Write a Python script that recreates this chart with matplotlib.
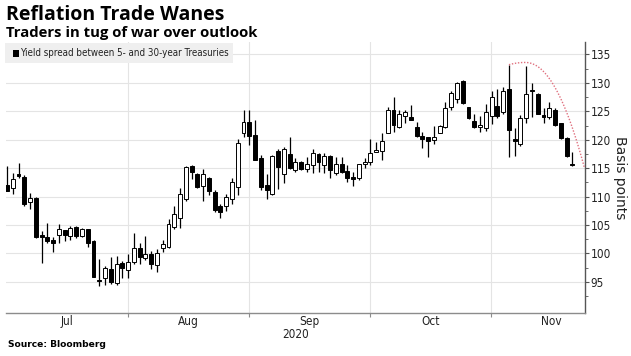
import matplotlib
matplotlib.use("Agg")
import matplotlib.pyplot as plt
from matplotlib.patches import Rectangle
import numpy as np

# ---- data (basis points), one candle per trading day, Jul -> Nov 2020 ----
opens = [112.1, 111.5, 114.0, 113.5, 109.1, 109.7, 103.2, 102.8, 102.4, 103.3,
         104.1, 103.0, 104.7, 103.0, 104.3, 102.2, 95.3, 95.6, 97.3, 94.8,
         98.3, 97.1, 98.5, 101.0, 99.1, 99.8, 97.9, 100.9, 101.1, 104.6,
         106.2, 109.6, 115.3, 114.0, 111.9, 113.3, 110.8, 108.3, 108.4, 109.5,
         111.7, 121.1, 123.1, 120.9, 116.8, 112.1, 110.5, 118.1, 114.0, 117.5,
         114.6, 116.1, 114.8, 115.5, 117.5, 115.5, 117.1, 114.2, 115.8, 114.5,
         113.4, 113.2, 115.7, 116.0, 117.9, 118.1, 121.2, 125.3, 122.3, 124.2,
         124.0, 122.3, 120.6, 120.4, 119.9, 121.2, 122.3, 125.8, 127.1, 130.3,
         125.8, 123.3, 122.3, 122.0, 124.1, 126.0, 124.9, 129.0, 120.1, 119.2,
         123.8, 128.8, 128.1, 124.3, 124.05, 125.2, 122.9, 120.3, 115.8]
highs = [115.3, 114.2, 115.9, 113.8, 110.7, 110.0, 104.0, 105.4, 102.9, 105.2,
         104.1, 104.8, 104.8, 104.4, 104.3, 102.3, 99.0, 97.7, 99.3, 99.6,
         98.6, 99.8, 103.5, 101.9, 103.0, 100.5, 100.7, 102.3, 106.1, 108.4,
         111.5, 115.4, 115.5, 114.2, 114.9, 113.4, 111.1, 108.6, 110.5, 113.2,
         120.2, 125.2, 125.2, 123.4, 117.3, 114.0, 117.3, 118.4, 118.7, 120.5,
         116.7, 116.2, 117.0, 118.3, 117.7, 117.7, 117.3, 116.9, 116.9, 115.5,
         114.4, 115.8, 116.7, 120.2, 119.6, 121.1, 125.8, 127.6, 125.2, 125.2,
         126.1, 123.2, 121.4, 120.5, 122.4, 122.6, 126.7, 128.5, 130.2, 130.5,
         125.8, 124.6, 124.2, 126.2, 128.5, 129.0, 129.2, 133.2, 122.0, 124.3,
         132.9, 130.0, 128.3, 125.5, 126.7, 125.5, 122.9, 120.4, 117.8]
lows = [110.9, 110.4, 113.2, 108.3, 107.8, 102.7, 98.3, 101.8, 100.3, 101.9,
        102.1, 102.4, 102.7, 102.9, 101.2, 95.8, 94.2, 94.5, 94.6, 94.4,
        95.6, 95.6, 98.2, 98.2, 98.8, 97.3, 96.7, 100.2, 100.9, 104.3,
        104.5, 109.3, 113.1, 111.5, 109.2, 110.2, 107.3, 106.3, 107.5, 108.7,
        110.2, 120.5, 119.0, 116.4, 111.1, 109.6, 110.3, 111.4, 112.3, 114.9,
        114.4, 114.6, 114.4, 114.1, 114.4, 114.2, 113.2, 113.8, 114.1, 112.6,
        111.8, 112.9, 114.95, 115.5, 117.9, 116.4, 121.1, 121.4, 122.0, 122.9,
        123.4, 120.4, 118.5, 116.9, 119.2, 121.2, 122.0, 125.2, 126.5, 126.3,
        123.6, 122.0, 121.3, 121.5, 122.8, 123.8, 124.6, 117.0, 117.2, 118.9,
        123.0, 124.0, 124.5, 122.9, 123.6, 122.4, 120.2, 117.0, 115.4]
closes = [111.0, 113.1, 113.7, 108.7, 109.7, 102.9, 102.9, 102.2, 101.9, 104.3,
          103.2, 104.4, 103.1, 104.3, 101.9, 95.9, 95.1, 97.4, 95.0, 98.2,
          97.4, 98.5, 101.0, 99.3, 99.8, 98.2, 100.1, 101.7, 105.2, 107.0,
          110.5, 115.2, 114.4, 111.7, 114.0, 110.9, 107.6, 107.2, 110.0, 112.6,
          119.5, 123.1, 120.7, 116.5, 111.7, 111.2, 117.1, 115.2, 118.3, 115.0,
          116.0, 114.8, 115.7, 117.6, 116.0, 117.1, 114.7, 115.8, 114.4, 113.2,
          113.1, 115.7, 116.0, 117.7, 118.2, 119.8, 125.3, 122.6, 124.5, 124.9,
          123.5, 120.6, 120.05, 119.8, 120.5, 122.5, 125.5, 128.2, 130.0, 126.4,
          123.8, 122.3, 122.6, 124.8, 127.6, 124.1, 128.5, 121.7, 119.8, 123.8,
          128.1, 128.6, 124.6, 124.05, 125.5, 122.6, 120.3, 117.1, 115.5]

month_labels = ["Jul", "Aug", "Sep", "Oct", "Nov"]
month_first_idx = [0, 21, 42, 63, 84]          # first candle of each month
year_label = "2020"
y_ticks = [95, 100, 105, 110, 115, 120, 125, 130, 135]

title = "Reflation Trade Wanes"
subtitle = "Traders in tug of war over outlook"
legend_label = "Yield spread between 5- and 30-year Treasuries"
source = "Source: Bloomberg"
ylabel = "Basis points"

# annotation arc: starts at the spike high (candle 87), ends at 115 on the right edge
arc_start_idx = 87
arc_end_value = 115

# ---- figure ----
W, H = 631, 356
fig = plt.figure(figsize=(W / 100, H / 100), dpi=100)
fig.patch.set_facecolor("white")
ax = fig.add_axes([6 / W, 1 - 313 / H, (584.5 - 6) / W, (313 - 42) / H])

n = len(opens)
x = np.arange(n)
o = np.array(opens); c = np.array(closes); hi = np.array(highs); lo = np.array(lows)

ax.vlines(x, lo, hi, color="black", lw=0.9, zorder=2)
bottoms = np.minimum(o, c)
heights = np.maximum(np.abs(c - o), 0.18)
face = ["black" if cc < oo else "white" for oo, cc in zip(o, c)]
ax.bar(x, heights, bottom=bottoms, width=0.68, color=face,
       edgecolor="black", linewidth=0.7, zorder=3)

ax.set_xlim(-0.17, 100.1)
ax.set_ylim(89.5, 137.2)

# grid
grid_c = "#e4e4e4"
for yv in y_ticks:
    ax.axhline(yv, color=grid_c, lw=0.8, zorder=0)
bounds = [i - 0.1 for i in month_first_idx[1:]]
for b in bounds:
    ax.axvline(b, color=grid_c, lw=0.8, zorder=0)

# spines
for s in ["left", "top"]:
    ax.spines[s].set_visible(False)
ax.spines["bottom"].set_color("#8c8c8c")
ax.spines["right"].set_color("#555555")
ax.spines["bottom"].set_linewidth(1.0)
ax.spines["right"].set_linewidth(1.0)

# y axis on right
ax.yaxis.tick_right()
ax.set_yticks(y_ticks)
ax.set_yticks(np.arange(92.5, 137.5, 5), minor=True)
ax.tick_params(axis="y", which="major", length=3, width=0.8, color="#555555",
               labelsize=8.5, labelcolor="#222222", pad=1.5)
ax.tick_params(axis="y", which="minor", length=2, width=0.6, color="#555555")
for lab in ax.get_yticklabels():
    lab.set_fontstretch("condensed")
ax.yaxis.set_label_position("right")
ax.set_ylabel(ylabel, rotation=270, fontsize=10, labelpad=11, color="#222222")

# x axis: boundary ticks + centred month labels
ax.set_xticks(bounds)
ax.set_xticklabels([])
ax.tick_params(axis="x", which="major", length=3, width=0.8, color="#8c8c8c")
centers = []
edges = [-0.17] + bounds + [bounds[-1] + 21]
for k in range(len(month_labels)):
    centers.append((edges[k] + edges[k + 1]) / 2)
ax.set_xticks(centers, minor=True)
ax.set_xticklabels(month_labels, minor=True)
ax.tick_params(axis="x", which="minor", length=0, labelsize=8.5,
               labelcolor="#222222", pad=1.5)
for lab in ax.get_xticklabels(minor=True):
    lab.set_fontstretch("condensed")
fig.text((6 + 584.5) / 2 / W, 1 - 334 / H, year_label, ha="center", va="center",
         fontsize=8.5, color="#222222", fontstretch="condensed")

# annotation arc (dotted red)
x0 = arc_start_idx
y0 = highs[arc_start_idx]
xv = x0 + 2.8
yv = y0 + 0.4
x1 = ax.get_xlim()[1]
xa = np.linspace(x0, xv, 20)
ya = yv - (yv - y0) * ((xv - xa) / (xv - x0)) ** 2
xb = np.linspace(xv, x1, 80)
ub = (xb - xv) / (x1 - xv)
yb = yv - (yv - arc_end_value) * ub ** 2.1
ax.plot(np.r_[xa, xb], np.r_[ya, yb], color="#e0707e", lw=1.0,
        linestyle=(0, (1, 1.2)), zorder=4, clip_on=False)

# legend box
fig.patches.append(Rectangle((5 / W, 1 - 63 / H), (233 - 5) / W, 20 / H,
                             transform=fig.transFigure, facecolor="#efefef",
                             edgecolor="none", zorder=5))
fig.patches.append(Rectangle((13 / W, 1 - 56.5 / H), 5.5 / W, 6 / H,
                             transform=fig.transFigure, facecolor="black",
                             edgecolor="none", zorder=6))
fig.text(20.5 / W, 1 - 53.5 / H, legend_label, ha="left", va="center",
         fontsize=7, color="#222222", zorder=7, fontstretch="condensed")

# titles
fig.text(6 / W, 1 - 20.5 / H, title, ha="left", va="baseline", fontsize=14,
         fontweight="bold", family="Open Sans", color="black")
fig.text(6 / W, 1 - 37 / H, subtitle, ha="left", va="baseline", fontsize=10.7,
         fontweight="bold", family="Open Sans", color="black")
fig.text(8 / W, 1 - 344.5 / H, source, ha="left", va="center", fontsize=6.6,
         fontweight="bold", color="black")

fig.savefig("out.png", dpi=100, facecolor="white")
